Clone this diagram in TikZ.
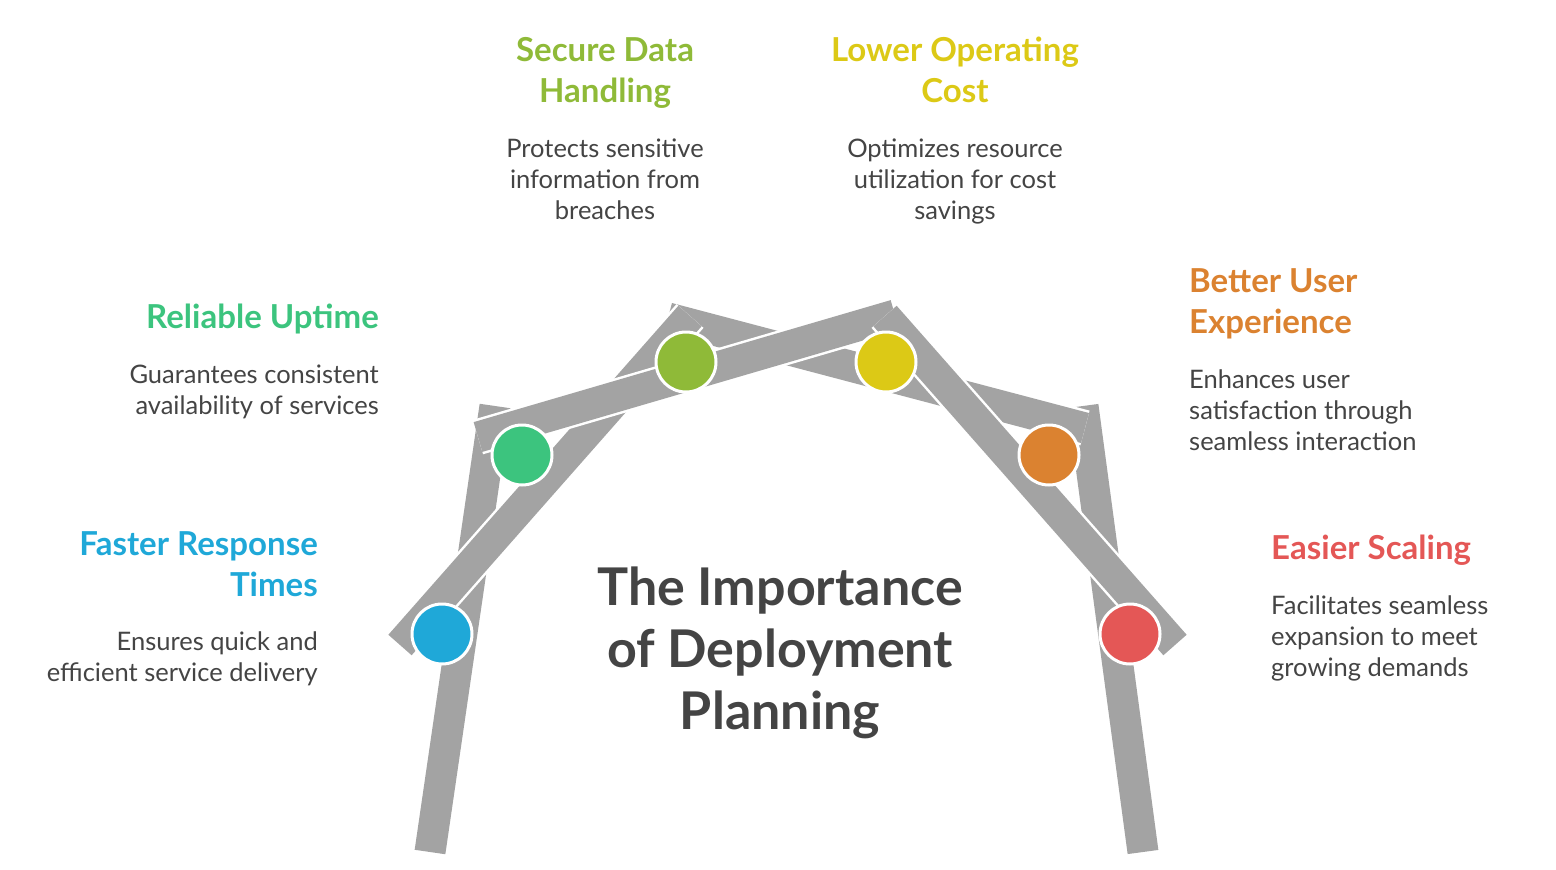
\documentclass[tikz,border=0pt]{standalone}
\usepackage{fontspec}
\setmainfont{Lato}
\definecolor{cblue}{HTML}{1FA8D8}
\definecolor{cteal}{HTML}{3CC47E}
\definecolor{clime}{HTML}{8FBA38}
\definecolor{cyell}{HTML}{DCC916}
\definecolor{corng}{HTML}{DB8230}
\definecolor{cred}{HTML}{E45756}
\definecolor{cgray}{HTML}{A3A3A3}
\definecolor{ctext}{HTML}{444444}
\tikzset{
  bar/.style={line width=36pt,white},
  barin/.style={line width=31pt,cgray},
  dot/.style={circle,draw=white,line width=3pt,minimum size=60pt,inner sep=0pt},
  head/.style={font=\fontsize{33}{41}\selectfont\bfseries,inner sep=0pt},
  body/.style={font=\fontsize{25.5}{31}\selectfont,text=ctext,inner sep=0pt},
}
\newcommand{\armbar}[2]{\draw[bar] #1 -- #2; \draw[barin] #1 -- #2;}
\begin{document}
\begin{tikzpicture}[x=1pt,y=-1pt]
\useasboundingbox (0,0) rectangle (1556,870);
% bars
\armbar{(1083,406)}{(1143,852)}
\armbar{(495,406)}{(430,852)}
\armbar{(1085,428)}{(668,318)}
\armbar{(400,645)}{(690,316)}
\armbar{(478,437)}{(895,315)}
\armbar{(885,316)}{(1175,645)}
% circles
\node[dot,fill=cblue] (blue) at (442,634) {};
\node[dot,fill=cteal] (teal) at (522,455) {};
\node[dot,fill=clime] (lime) at (686,362) {};
\node[dot,fill=cyell] (yell) at (886,362) {};
\node[dot,fill=corng] (orng) at (1049,455) {};
\node[dot,fill=cred] (red) at (1130,634) {};
% title
\node[font=\fontsize{52}{62}\selectfont\bfseries,text=ctext,align=center,anchor=north] (title) at (780,563) {The Importance\\of Deployment\\Planning};
% labels
\node[head,text=clime,align=center,anchor=north] (h1) at (605,37) {Secure Data\\Handling};
\node[body,align=center,anchor=north] (b1) at (605,139) {Protects sensitive\\information from\\breaches};
\node[head,text=cyell,align=center,anchor=north] (h2) at (955,37) {Lower Operating\\Cost};
\node[body,align=center,anchor=north] (b2) at (955,139) {Optimizes resource\\utilization for cost\\savings};
\node[head,text=cteal,align=right,anchor=north east] (h3) at (379,304) {Reliable Uptime};
\node[body,align=right,anchor=north east] (b3) at (379,365) {Guarantees consistent\\availability of services};
\node[head,text=cblue,align=right,anchor=north east] (h4) at (318,531) {Faster Response\\Times};
\node[body,align=right,anchor=north east] (b4) at (318,632) {Ensures quick and\\efficient service delivery};
\node[head,text=corng,align=left,anchor=north west] (h5) at (1189,268) {Better User\\Experience};
\node[body,align=left,anchor=north west] (b5) at (1189,370) {Enhances user\\satisfaction through\\seamless interaction};
\node[head,text=cred,align=left,anchor=north west] (h6) at (1271,535) {Easier Scaling};
\node[body,align=left,anchor=north west] (b6) at (1271,596) {Facilitates seamless\\expansion to meet\\growing demands};
\end{tikzpicture}
\end{document}
